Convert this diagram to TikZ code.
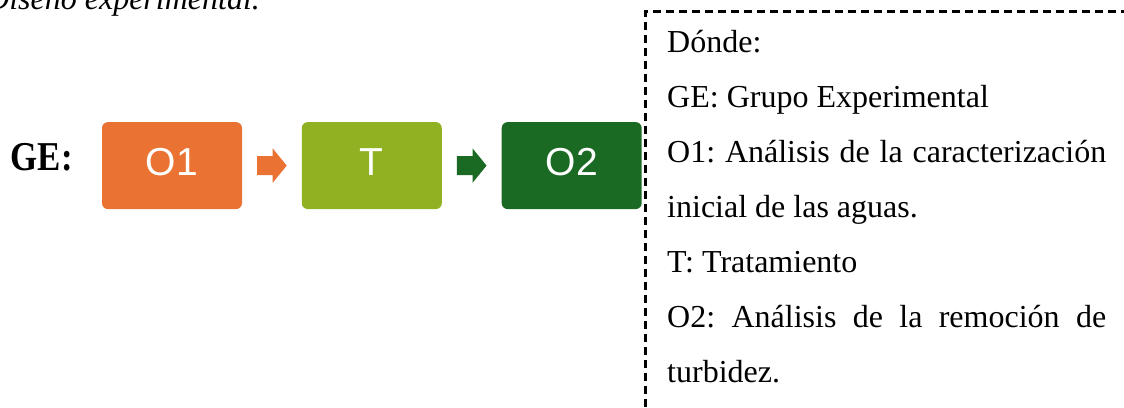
\documentclass[tikz,border=0pt]{standalone}
\usepackage{fontspec}
\setmainfont{Liberation Serif}
\newfontfamily\boxfont{Liberation Sans}
\usetikzlibrary{calc}
\frenchspacing

\definecolor{stageOrange}{HTML}{EA7334}
\definecolor{stageLime}{HTML}{8FB122}
\definecolor{stageGreen}{HTML}{1B6A24}

\tikzset{
  stage/.style={rounded corners=6pt, minimum width=140pt, minimum height=87pt,
    inner sep=0pt, text=white, font=\boxfont\fontsize{39}{39}\selectfont,
    text height=28pt, text depth=8pt},
  keyframe/.style={line width=2.4pt, dash pattern=on 8pt off 5pt},
  pics/blockarrow/.style={code={
    \fill[#1] (-14.8,-9.5) -- (0.8,-9.5) -- (0.8,-17.2) -- (14.8,0)
      -- (0.8,17.2) -- (0.8,9.5) -- (-14.8,9.5) -- cycle;}},
}

\begin{document}
\begin{tikzpicture}[x=1pt,y=-1pt]
  \useasboundingbox (0,0) rectangle (1124,407);
  \clip (0,0) rectangle (1124,407);

  % caption line
  \node[anchor=base west, inner sep=0pt, font=\itshape\fontsize{32}{32}\selectfont]
    (caption) at (-14,9.5) {Diseño experimental.};

  % group label
  \node[anchor=base, inner sep=0pt, font=\bfseries\fontsize{41}{41}\selectfont]
    (ge) at (41.8,170.7) {\scalebox{0.85}[1]{GE:}};

  % stages
  \node[stage, fill=stageOrange] (o1) at (172,165.6) {O1};
  \node[stage, fill=stageLime]   (t)  at (371.8,165.6) {T};
  \node[stage, fill=stageGreen]  (o2) at (571.7,165.6) {O2};

  % block arrows between stages
  \pic at ($(o1.east)!0.5!(t.west)$) {blockarrow=stageOrange};
  \pic at ($(t.east)!0.5!(o2.west)$) {blockarrow=stageGreen};

  % key
  \node[anchor=base west, text width=439pt, align=justify, inner sep=0pt,
        font=\fontsize{32}{55}\selectfont] (key) at (667,52.5)
    {Dónde:\\
     GE: Grupo Experimental\\
     O1: Análisis de la caracterización\linebreak inicial de las aguas.\\
     T: Tratamiento\\
     O2: Análisis de la remoción de\linebreak turbidez.};

  % dashed frame around the key
  \draw[keyframe] (645.5,420) -- (645.5,11.5) -- (1130,11.5);
\end{tikzpicture}
\end{document}
